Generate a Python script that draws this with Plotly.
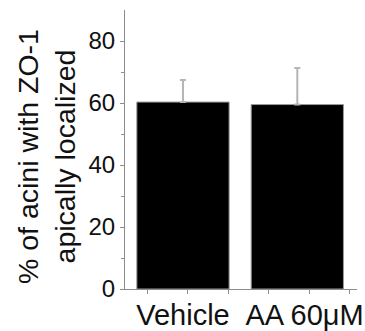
import plotly.graph_objects as go

categories = ["Vehicle", "AA 60\u03bcM"]
values = [60.3, 59.5]
errors = [7.1, 11.8]
y_ticks = [0, 20, 40, 60, 80]

xpos = list(range(len(categories)))
ticktext = [categories[0], "\u2002" + categories[1]]

fig = go.Figure()
fig.add_trace(go.Bar(
    x=xpos, y=values, width=0.807,
    marker=dict(color="black", line=dict(color="#9a9a9a", width=1)),
    error_y=dict(type="data", array=errors, symmetric=False, arrayminus=[0, 0],
                 color="#b5b5b5", thickness=2, width=3),
))

fig.update_layout(
    width=365, height=331,
    margin=dict(l=125, r=8, t=10, b=42, autoexpand=False),
    paper_bgcolor="white", plot_bgcolor="white",
    showlegend=False,
    font=dict(family="Liberation Sans, Arial, sans-serif", color="#111111"),
    xaxis=dict(
        range=[-0.507, 1.522], automargin=False,
        tickmode="array", tickvals=xpos, ticktext=ticktext,
        ticks="", showgrid=False, zeroline=False,
        showline=True, linecolor="#8c8c8c", linewidth=1,
        tickfont=dict(size=29), tickangle=0,
        ticklabelstandoff=0,
        minor=dict(tick0=-0.311, dtick=0.354, ticks="outside", ticklen=4,
                   tickcolor="#8c8c8c", tickwidth=1, showgrid=False),
    ),
    yaxis=dict(
        range=[0, 90], automargin=False,
        tickmode="array", tickvals=y_ticks,
        ticks="outside", ticklen=4, tickcolor="#8c8c8c", tickwidth=1,
        showgrid=False, zeroline=False,
        showline=True, linecolor="#8c8c8c", linewidth=1,
        tickfont=dict(size=24),
        ticklabelstandoff=0,
        minor=dict(tickvals=[10, 30, 50, 70], ticks="outside", ticklen=3,
                   tickcolor="#8c8c8c", tickwidth=1, showgrid=False),
    ),
    annotations=[dict(
        text="% of acini with ZO-1<br>apically localized",
        textangle=-90, xref="paper", yref="paper", x=0, y=0.473,
        xanchor="center", yanchor="middle", xshift=-79,
        showarrow=False, font=dict(size=28.5, color="#111111"),
    )],
)

fig.write_html("out.html", config={"displayModeBar": False},
               post_script="document.body.style.margin='0';")
